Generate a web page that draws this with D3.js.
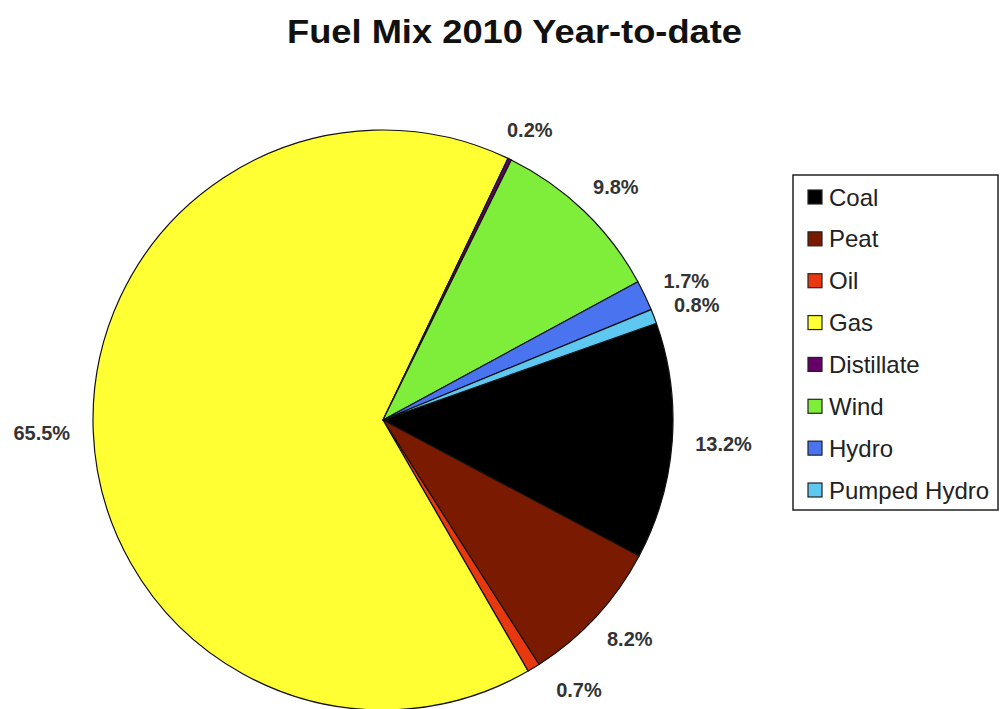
<!DOCTYPE html>
<html>
<head>
<meta charset="utf-8">
<script src="https://cdn.jsdelivr.net/npm/d3@7"></script>
<style>
  html, body { margin: 0; padding: 0; background: #fff; }
  svg { display: block; }
</style>
</head>
<body>
<svg id="chart" width="1001" height="709"></svg>
<script>
const categories = ["Coal", "Peat", "Oil", "Gas", "Distillate", "Wind", "Hydro", "Pumped Hydro"];
const values = [13.2, 8.2, 0.7, 65.5, 0.2, 9.8, 1.7, 0.8];
const labels = ["13.2%", "8.2%", "0.7%", "65.5%", "0.2%", "9.8%", "1.7%", "0.8%"];
const colors = ["#000000", "#7a1a00", "#e8380f", "#ffff33", "#660066", "#7fee3a", "#4a73f0", "#5ec8f0"];
const title = "Fuel Mix 2010 Year-to-date";

const svg = d3.select("#chart");
const W = 1001, H = 709;
const cx = 383, cy = 420, r = 290;
const startDeg = 70.5;
const gap = 23;

svg.append("text")
  .attr("x", 514.5).attr("y", 43)
  .attr("text-anchor", "middle")
  .attr("font-family", "'Liberation Sans', Arial, sans-serif")
  .attr("font-weight", "bold")
  .attr("font-size", 34)
  .attr("textLength", 455)
  .attr("lengthAdjust", "spacingAndGlyphs")
  .attr("fill", "#111")
  .text(title);

const pie = d3.pie().sort(null).value(d => d)
  .startAngle(startDeg * Math.PI / 180)
  .endAngle(startDeg * Math.PI / 180 + 2 * Math.PI);
const arcs = pie(values);
const arc = d3.arc().innerRadius(0).outerRadius(r);
const edgeArc = d3.arc().innerRadius(r + gap).outerRadius(r + gap);

const g = svg.append("g").attr("transform", `translate(${cx},${cy})`);
g.selectAll("path.slice").data(arcs).enter().append("path")
  .attr("class", "slice")
  .attr("d", arc)
  .attr("fill", (d, i) => colors[i])
  .attr("stroke", "#111")
  .attr("stroke-width", 1.2)
  .attr("stroke-linejoin", "round");

const lbl = g.selectAll("text.lbl").data(arcs).enter().append("text")
  .attr("class", "lbl")
  .attr("text-anchor", "middle")
  .attr("dy", "0.36em")
  .attr("font-family", "'Liberation Sans', Arial, sans-serif")
  .attr("font-weight", "bold")
  .attr("font-size", 20)
  .attr("fill", "#333")
  .text((d, i) => labels[i]);

lbl.each(function(d) {
  const bb = this.getBBox();
  const halfW = bb.width / 2, halfH = 10;
  const a = (d.startAngle + d.endAngle) / 2;
  const dx = Math.sin(a), dy = -Math.cos(a);
  const p = edgeArc.centroid(d);
  let x = p[0] + dx * halfW;
  let y = p[1] + dy * halfH;
  const maxY = H - 19 - cy;
  if (y > maxY) {
    y = maxY;
    const rr = r + gap + halfW * 0.9;
    x = Math.sign(dx) * Math.sqrt(Math.max(0, rr * rr - y * y));
  }
  d3.select(this).attr("transform", `translate(${x},${y})`);
});

// Legend
const lx = 793, ly = 175, lw = 205, lh = 335;
const legend = svg.append("g");
legend.append("rect")
  .attr("x", lx).attr("y", ly).attr("width", lw).attr("height", lh)
  .attr("fill", "#fff").attr("stroke", "#222").attr("stroke-width", 1.5);

const rowY = d3.scalePoint().domain(categories).range([197, 490]);
const items = legend.selectAll("g.item").data(categories).enter().append("g")
  .attr("class", "item")
  .attr("transform", d => `translate(0,${rowY(d)})`);
items.append("rect")
  .attr("x", 808).attr("y", -7).attr("width", 14).attr("height", 14)
  .attr("fill", (d, i) => colors[i])
  .attr("stroke", "#222").attr("stroke-width", 1.2);
items.append("text")
  .attr("x", 829).attr("dy", "0.36em")
  .attr("font-family", "'Liberation Sans', Arial, sans-serif")
  .attr("font-size", 24)
  .attr("fill", "#222")
  .text(d => d);
</script>
</body>
</html>
